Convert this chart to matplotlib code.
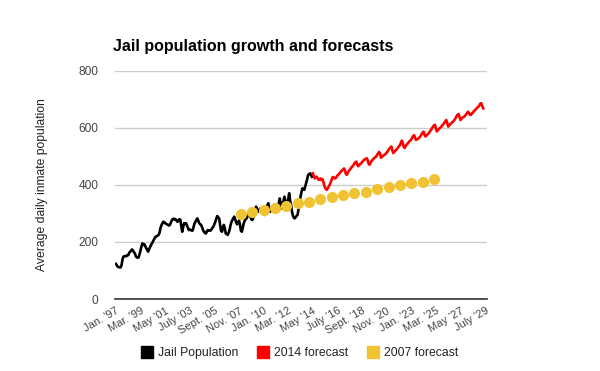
import matplotlib.pyplot as plt
import numpy as np
from matplotlib.lines import Line2D

plt.rcParams["font.family"] = ["Liberation Sans", "DejaVu Sans"]

# monthly average daily population, Jan 1997 - Apr 2014
jail_start = 0  # months since Jan 1997
jail = [
    123, 118, 113, 112, 111, 111, 120, 140, 149, 150, 151, 150,
    153, 154, 162, 166, 170, 174, 170, 164, 160, 150, 146, 145,
    146, 158, 172, 185, 195, 190, 192, 185, 178, 172, 166, 175,
    182, 189, 195, 201, 208, 214, 219, 220, 222, 225, 232, 248,
    258, 265, 271, 270, 266, 264, 262, 260, 258, 260, 268, 276,
    280, 282, 279, 280, 275, 271, 276, 280, 278, 256, 236, 252,
    266, 264, 266, 258, 250, 242, 244, 242, 240, 240, 252, 265,
    271, 278, 283, 275, 266, 262, 260, 252, 242, 236, 232, 230,
    236, 242, 240, 241, 240, 245, 250, 254, 262, 271, 282, 291,
    287, 283, 262, 240, 236, 248, 260, 248, 230, 228, 225, 232,
    242, 258, 270, 277, 284, 289, 280, 268, 262, 270, 275, 262,
    240, 236, 250, 266, 274, 280, 283, 290, 295, 300, 289, 280,
    277, 283, 300, 305, 324, 316, 306, 310, 316, 318, 318, 308,
    300, 295, 305, 318, 330, 336, 320, 306, 312, 318, 322, 324,
    315, 308, 306, 318, 335, 353, 335, 318, 330, 345, 359, 345,
    330, 324, 350, 371, 345, 330, 306, 292, 285, 283, 288, 292,
    296, 318, 342, 358, 375, 388, 385, 383, 395, 406, 420, 435,
    438, 441, 435, 429,
]

# 2014 forecast, monthly, May 2014 - July 2029
fc14_start = 208
fc14 = [
    441, 432, 423, 428, 429, 424, 418, 420,
    423, 418, 421, 412, 400, 390, 385, 383, 390, 396, 402, 410,
    420, 428, 427, 423, 424, 428, 434, 436, 440, 445, 448, 452,
    455, 458, 450, 438, 436, 444, 450, 453, 458, 462, 466, 470,
    476, 480, 482, 470, 466, 470, 474, 476, 480, 484, 488, 490,
    492, 494, 486, 474, 471, 478, 484, 488, 492, 495, 498, 500,
    506, 511, 516, 510, 496, 498, 502, 505, 506, 510, 514, 518,
    524, 528, 532, 535, 522, 512, 516, 520, 523, 527, 531, 536,
    540, 548, 556, 548, 534, 530, 536, 541, 545, 549, 553, 556,
    560, 566, 572, 575, 566, 558, 560, 562, 565, 568, 573, 579,
    584, 587, 576, 570, 574, 577, 580, 584, 590, 594, 600, 605,
    609, 611, 598, 588, 592, 596, 599, 602, 606, 610, 614, 619,
    624, 628, 616, 605, 609, 613, 616, 619, 622, 626, 630, 636,
    642, 647, 649, 638, 628, 632, 636, 638, 640, 644, 648, 653,
    657, 652, 647, 646, 650, 654, 658, 662, 665, 669, 672, 675,
    680, 686, 687, 676, 669,
]

# 2007 forecast, yearly, Jan 2008 - Jan 2025
fc07_months = [132 + 12 * k for k in range(18)]
fc07 = [298, 306, 312, 320, 327, 336, 342, 350, 357, 365, 371, 377,
        386, 393, 400, 406, 412, 421]

tick_labels = ["Jan. '97", "Mar. '99", "May '01", "July '03", "Sept. '05",
               "Nov. '07", "Jan. '10", "Mar. '12", "May '14", "July '16",
               "Sept. '18", "Nov. '20", "Jan. '23", "Mar. '25", "May '27",
               "July '29"]

BLACK = "#000000"
RED = "#ff0000"
YELLOW = "#f1c232"

fig = plt.figure(figsize=(6, 3.71), dpi=100)
ax = fig.add_axes([115 / 600, 1 - 299 / 371, 372 / 600, 228 / 371])

x_jail = jail_start + np.arange(len(jail))
x_fc14 = fc14_start + np.arange(len(fc14))
ax.plot(x_jail, jail, color=BLACK, lw=1.9, zorder=3)
ax.plot(x_fc14, fc14, color=RED, lw=1.9, zorder=3)
ax.plot(fc07_months, fc07, "o", color=YELLOW, ms=8, mec="none", zorder=4)

ax.set_xlim(-1, 392)
ax.set_ylim(0, 800)
ax.set_yticks([0, 200, 400, 600, 800])
ax.set_xticks(np.arange(len(tick_labels)) * 26)
ax.set_xticklabels(tick_labels, rotation=30, ha="right",
                   rotation_mode="anchor")
ax.tick_params(axis="both", length=0, colors="#444444", labelsize=8.6)
ax.tick_params(axis="x", labelsize=8.0, pad=5)
ax.tick_params(axis="y", pad=12)

ax.grid(axis="y", color="#cccccc", lw=1)
ax.set_axisbelow(True)
for s in ["top", "right", "left"]:
    ax.spines[s].set_visible(False)
ax.spines["bottom"].set_color("#333333")
ax.spines["bottom"].set_linewidth(1.2)
ax.spines["bottom"].set_zorder(5)

fig.text(42 / 600, 1 - 185 / 371, "Average daily inmate population",
         rotation=90, ha="center", va="center", fontsize=8.7, color="#222222")
fig.text(113 / 600, 1 - 46 / 371, "Jail population growth and forecasts",
         ha="left", va="center", fontsize=11.5, fontweight="bold",
         color="#000000")

handles = [Line2D([], [], marker="s", ls="none", color=c, ms=8.6)
           for c in (BLACK, RED, YELLOW)]
fig.legend(handles, ["Jail Population", "2014 forecast", "2007 forecast"],
           loc="center", bbox_to_anchor=(300 / 600, 1 - 353 / 371), ncol=3,
           frameon=False, fontsize=8.8, handlelength=0.9, handletextpad=0.45,
           columnspacing=1.6, labelcolor="#222222")

fig.savefig("out.png", dpi=100)
